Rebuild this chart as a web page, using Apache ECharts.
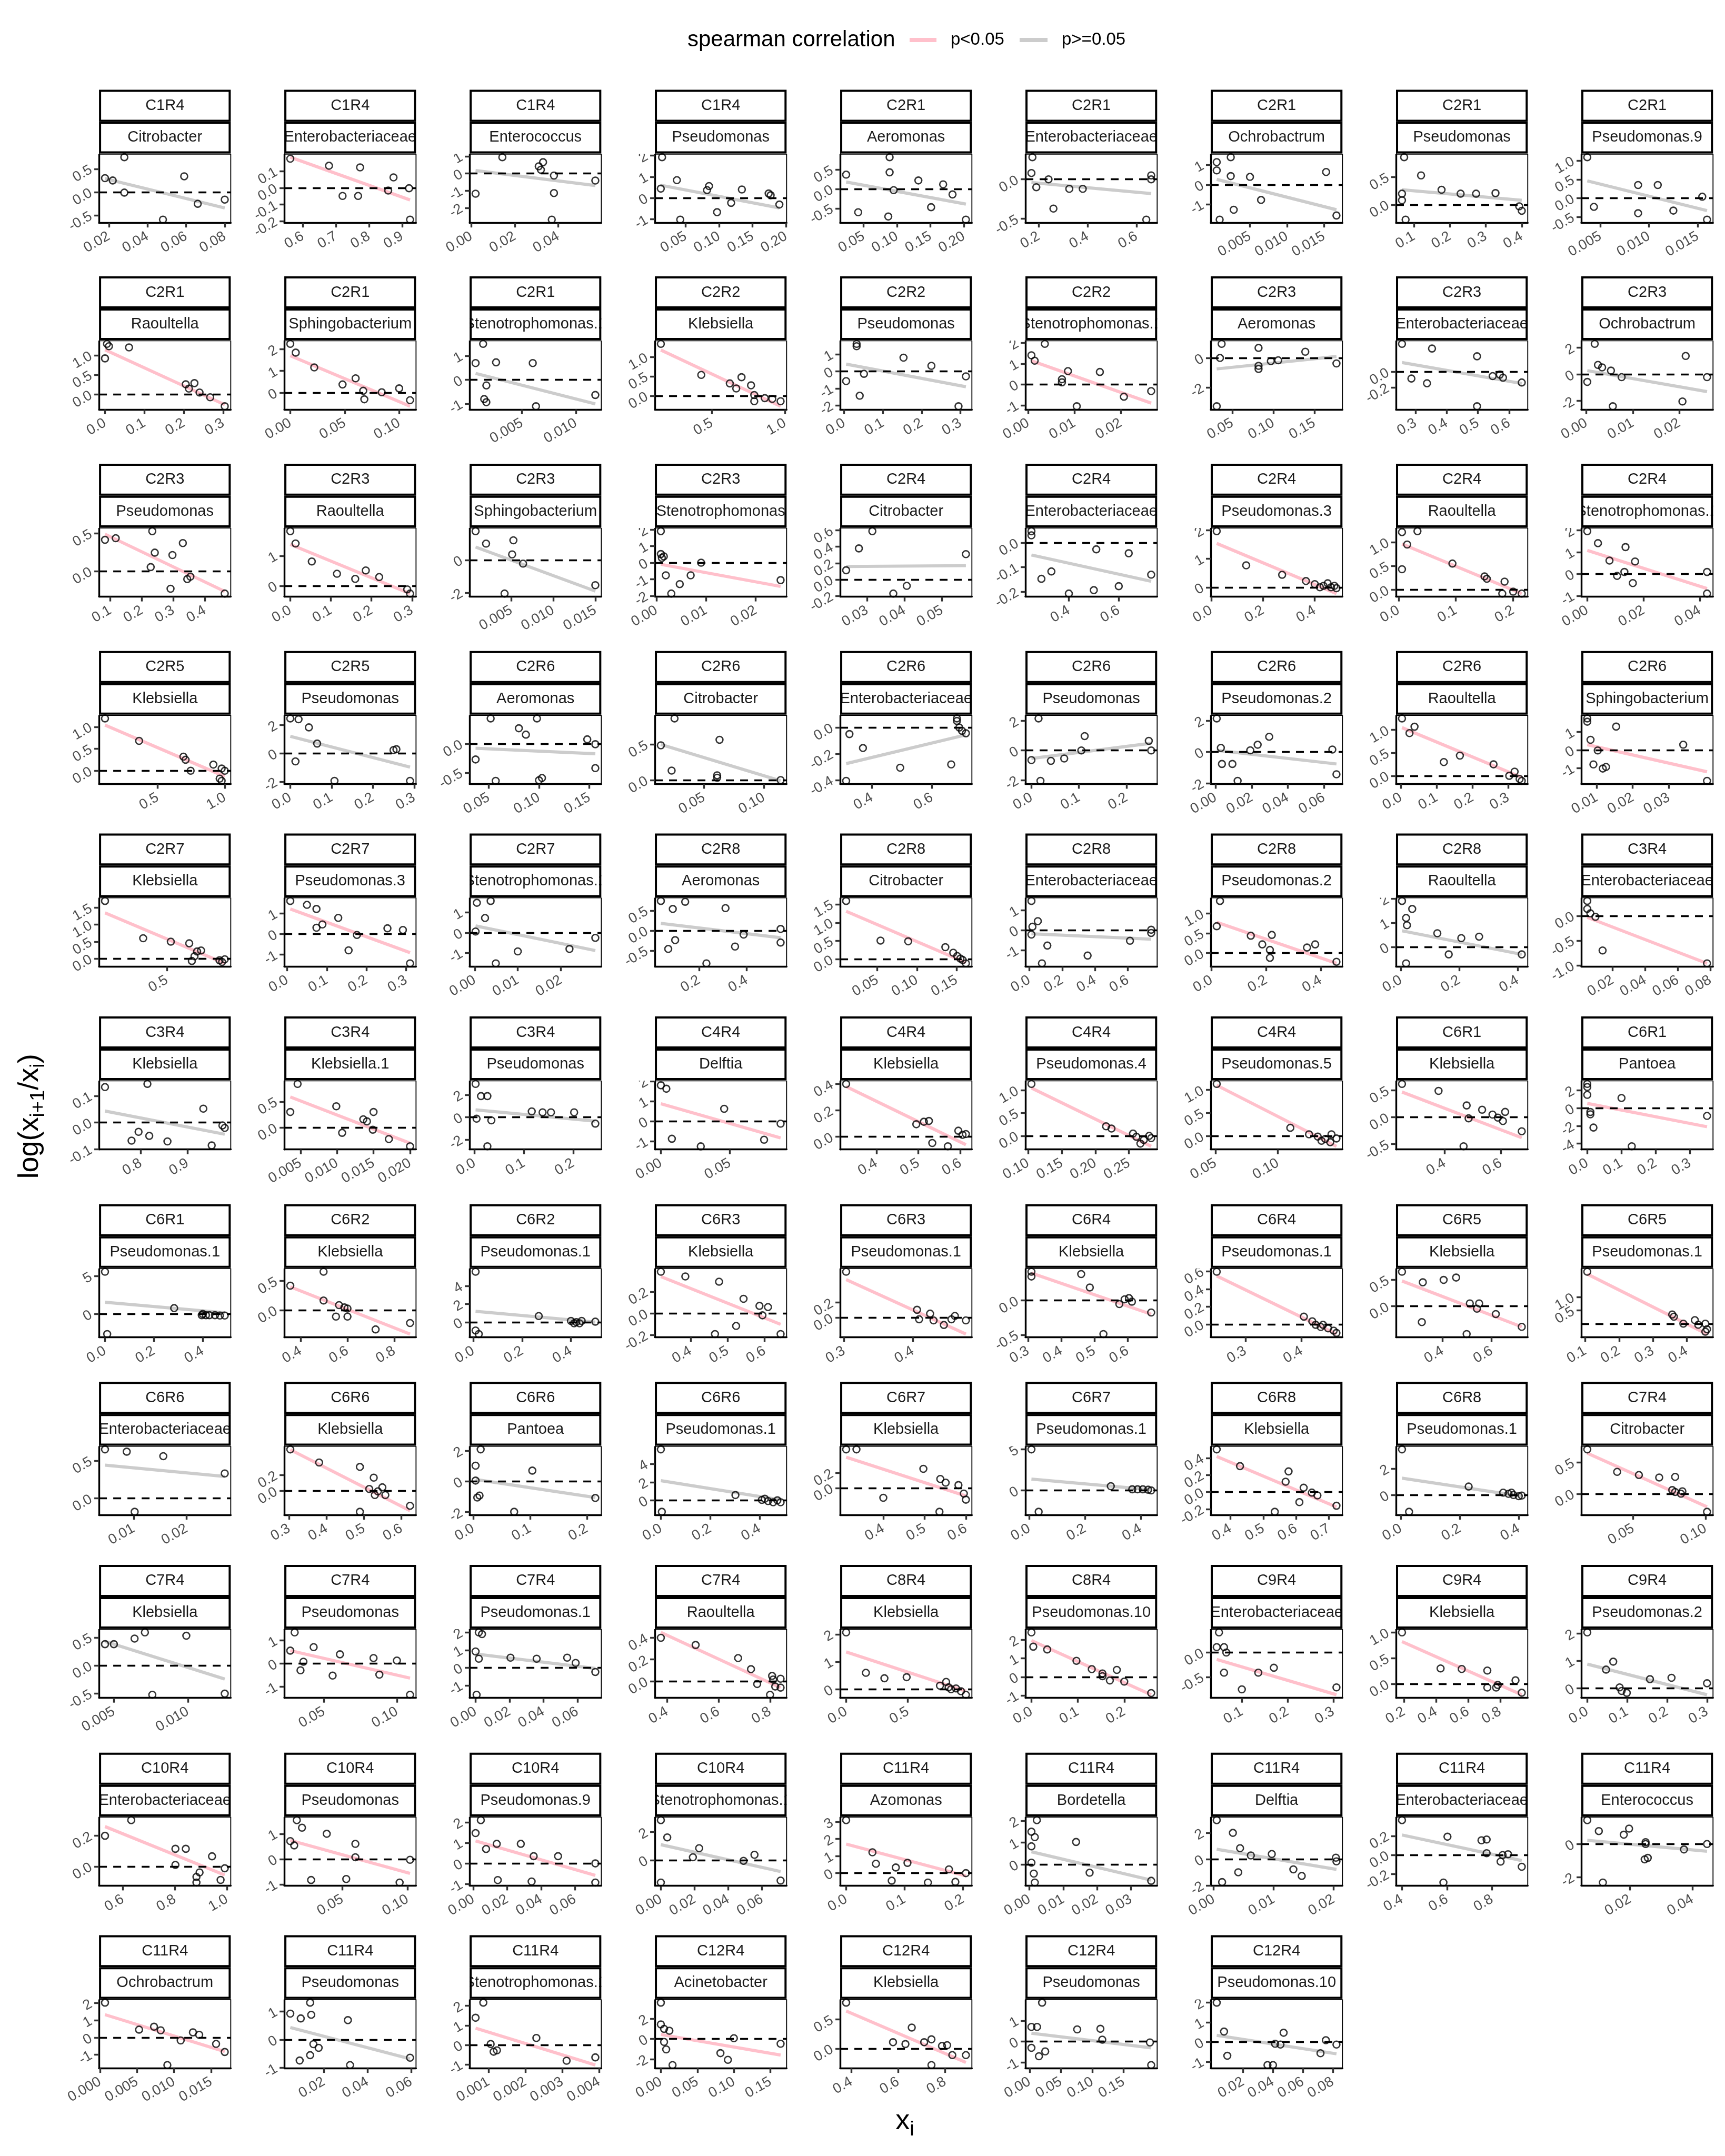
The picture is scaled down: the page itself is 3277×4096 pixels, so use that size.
<!DOCTYPE html>
<html><head><meta charset="utf-8">
<script src="https://cdn.jsdelivr.net/npm/echarts@6/dist/echarts.min.js"></script>
<style>html,body{margin:0;padding:0;background:#fff;}#chart{width:3277px;height:4096px;}</style>
</head><body><div id="chart"></div>
<script>
// ---------------- DATA ----------------
const cohorts = [
"C1R4","C1R4","C1R4","C1R4","C2R1","C2R1","C2R1","C2R1","C2R1",
"C2R1","C2R1","C2R1","C2R2","C2R2","C2R2","C2R3","C2R3","C2R3",
"C2R3","C2R3","C2R3","C2R3","C2R4","C2R4","C2R4","C2R4","C2R4",
"C2R5","C2R5","C2R6","C2R6","C2R6","C2R6","C2R6","C2R6","C2R6",
"C2R7","C2R7","C2R7","C2R8","C2R8","C2R8","C2R8","C2R8","C3R4",
"C3R4","C3R4","C3R4","C4R4","C4R4","C4R4","C4R4","C6R1","C6R1",
"C6R1","C6R2","C6R2","C6R3","C6R3","C6R4","C6R4","C6R5","C6R5",
"C6R6","C6R6","C6R6","C6R6","C6R7","C6R7","C6R8","C6R8","C7R4",
"C7R4","C7R4","C7R4","C7R4","C8R4","C8R4","C9R4","C9R4","C9R4",
"C10R4","C10R4","C10R4","C10R4","C11R4","C11R4","C11R4","C11R4","C11R4",
"C11R4","C11R4","C11R4","C12R4","C12R4","C12R4","C12R4"];
const genera = [
"Citrobacter","Enterobacteriaceae","Enterococcus","Pseudomonas","Aeromonas","Enterobacteriaceae","Ochrobactrum","Pseudomonas","Pseudomonas.9",
"Raoultella","Sphingobacterium","Stenotrophomonas.1","Klebsiella","Pseudomonas","Stenotrophomonas.1","Aeromonas","Enterobacteriaceae","Ochrobactrum",
"Pseudomonas","Raoultella","Sphingobacterium","Stenotrophomonas","Citrobacter","Enterobacteriaceae","Pseudomonas.3","Raoultella","Stenotrophomonas.1",
"Klebsiella","Pseudomonas","Aeromonas","Citrobacter","Enterobacteriaceae","Pseudomonas","Pseudomonas.2","Raoultella","Sphingobacterium",
"Klebsiella","Pseudomonas.3","Stenotrophomonas.1","Aeromonas","Citrobacter","Enterobacteriaceae","Pseudomonas.2","Raoultella","Enterobacteriaceae",
"Klebsiella","Klebsiella.1","Pseudomonas","Delftia","Klebsiella","Pseudomonas.4","Pseudomonas.5","Klebsiella","Pantoea",
"Pseudomonas.1","Klebsiella","Pseudomonas.1","Klebsiella","Pseudomonas.1","Klebsiella","Pseudomonas.1","Klebsiella","Pseudomonas.1",
"Enterobacteriaceae","Klebsiella","Pantoea","Pseudomonas.1","Klebsiella","Pseudomonas.1","Klebsiella","Pseudomonas.1","Citrobacter",
"Klebsiella","Pseudomonas","Pseudomonas.1","Raoultella","Klebsiella","Pseudomonas.10","Enterobacteriaceae","Klebsiella","Pseudomonas.2",
"Enterobacteriaceae","Pseudomonas","Pseudomonas.9","Stenotrophomonas.1","Azomonas","Bordetella","Delftia","Enterobacteriaceae","Enterococcus",
"Ochrobactrum","Pseudomonas","Stenotrophomonas.1","Acinetobacter","Klebsiella","Pseudomonas","Pseudomonas.10"];
// 1 = p<0.05 (pink), 0 = p>=0.05 (grey)
const significant = [
0,1,0,0,0,0,0,0,0,
1,1,0,1,0,1,0,0,0,
1,1,0,1,0,0,1,1,1,
1,0,0,0,0,0,0,1,1,
1,1,0,0,1,0,1,0,1,
0,1,0,1,1,1,1,1,1,
0,1,0,1,1,1,1,1,1,
0,1,0,0,1,0,1,0,1,
0,1,0,1,1,1,1,1,0,
1,1,1,0,1,0,0,0,0,
1,0,1,1,1,0,0];
const xTickLabels = [
["0.02","0.04","0.06","0.08"],["0.6","0.7","0.8","0.9"],["0.00","0.02","0.04"],["0.05","0.10","0.15","0.20"],["0.05","0.10","0.15","0.20"],["0.2","0.4","0.6"],["0.005","0.010","0.015"],["0.1","0.2","0.3","0.4"],["0.005","0.010","0.015"],
["0.0","0.1","0.2","0.3"],["0.00","0.05","0.10"],["0.005","0.010"],["0.5","1.0"],["0.0","0.1","0.2","0.3"],["0.00","0.01","0.02"],["0.05","0.10","0.15"],["0.3","0.4","0.5","0.6"],["0.00","0.01","0.02"],
["0.1","0.2","0.3","0.4"],["0.0","0.1","0.2","0.3"],["0.005","0.010","0.015"],["0.00","0.01","0.02"],["0.03","0.04","0.05"],["0.4","0.6"],["0.0","0.2","0.4"],["0.0","0.1","0.2"],["0.00","0.02","0.04"],
["0.5","1.0"],["0.0","0.1","0.2","0.3"],["0.05","0.10","0.15"],["0.05","0.10"],["0.4","0.6"],["0.0","0.1","0.2"],["0.00","0.02","0.04","0.06"],["0.0","0.1","0.2","0.3"],["0.01","0.02","0.03"],
["0.5"],["0.0","0.1","0.2","0.3"],["0.00","0.01","0.02"],["0.2","0.4"],["0.05","0.10","0.15"],["0.0","0.2","0.4","0.6"],["0.0","0.2","0.4"],["0.0","0.2","0.4"],["0.02","0.04","0.06","0.08"],
["0.8","0.9"],["0.005","0.010","0.015","0.020"],["0.0","0.1","0.2"],["0.00","0.05"],["0.4","0.5","0.6"],["0.10","0.15","0.20","0.25"],["0.05","0.10"],["0.4","0.6"],["0.0","0.1","0.2","0.3"],
["0.0","0.2","0.4"],["0.4","0.6","0.8"],["0.0","0.2","0.4"],["0.4","0.5","0.6"],["0.3","0.4"],["0.3","0.4","0.5","0.6"],["0.3","0.4"],["0.4","0.6"],["0.1","0.2","0.3","0.4"],
["0.01","0.02"],["0.3","0.4","0.5","0.6"],["0.0","0.1","0.2"],["0.0","0.2","0.4"],["0.4","0.5","0.6"],["0.0","0.2","0.4"],["0.4","0.5","0.6","0.7"],["0.0","0.2","0.4"],["0.05","0.10"],
["0.005","0.010"],["0.05","0.10"],["0.00","0.02","0.04","0.06"],["0.4","0.6","0.8"],["0.0","0.5"],["0.0","0.1","0.2"],["0.1","0.2","0.3"],["0.2","0.4","0.6","0.8"],["0.0","0.1","0.2","0.3"],
["0.6","0.8","1.0"],["0.05","0.10"],["0.00","0.02","0.04","0.06"],["0.00","0.02","0.04","0.06"],["0.0","0.1","0.2"],["0.00","0.01","0.02","0.03"],["0.00","0.01","0.02"],["0.4","0.6","0.8"],["0.02","0.04"],
["0.000","0.005","0.010","0.015"],["0.02","0.04","0.06"],["0.001","0.002","0.003","0.004"],["0.00","0.05","0.10","0.15"],["0.4","0.6","0.8"],["0.00","0.05","0.10","0.15"],["0.02","0.04","0.06","0.08"]];
const yTickLabels = [
["-0.5","0.0","0.5"],["-0.2","-0.1","0.0","0.1"],["-2","-1","0","1"],["-1","0","1","2"],["-0.5","0.0","0.5"],["-0.5","0.0"],["-1","0","1"],["0.0","0.5"],["-0.5","0.0","0.5","1.0"],
["0.0","0.5","1.0"],["0","1","2"],["-1","0","1"],["0.0","0.5","1.0"],["-2","-1","0","1"],["-1","0","1","2"],["-2","0"],["-0.4","-0.2","0.0","0.2"],["-2","0","2"],
["0.0","0.5"],["0","1"],["-2","0"],["-2","-1","0","1","2"],["-0.2","0.0","0.2","0.4","0.6"],["-0.2","-0.1","0.0"],["0","1","2"],["0.0","0.5","1.0"],["-1","0","1","2"],
["0.0","0.5","1.0"],["-2","0","2"],["-0.5","0.0"],["0.0","0.5"],["-0.4","-0.2","0.0"],["-2","0","2"],["-2","0","2"],["0.0","0.5","1.0"],["-1","0","1"],
["0.0","0.5","1.0","1.5"],["-1","0","1"],["-1","0","1"],["-0.5","0.0","0.5"],["0.0","0.5","1.0","1.5"],["-1","0","1"],["0.0","0.5","1.0"],["0","1","2"],["-1.0","-0.5","0.0"],
["-0.1","0.0","0.1"],["0.0","0.5"],["-2","0","2"],["-1","0","1","2"],["0.0","0.2","0.4"],["0.0","0.5","1.0"],["0.0","0.5","1.0"],["-0.5","0.0","0.5"],["-4","-2","0","2"],
["0","5"],["0.0","0.5"],["0","2","4"],["-0.2","0.0","0.2"],["-0.2","0.0","0.2","0.4"],["-0.5","0.0"],["0.0","0.2","0.4","0.6"],["0.0","0.5"],["0.0","0.5","1.0","1.5"],
["0.0","0.5"],["-0.2","0.0","0.2","0.4"],["-2","0","2"],["0","2","4"],["-0.2","0.0","0.2","0.4"],["0","5"],["-0.2","0.0","0.2","0.4"],["0","2"],["0.0","0.5"],
["-0.5","0.0","0.5"],["-1","0","1"],["-1","0","1","2"],["0.0","0.2","0.4"],["0","1","2"],["-1","0","1","2"],["-0.5","0.0"],["0.0","0.5","1.0"],["0","1","2"],
["0.0","0.2"],["-1","0","1"],["-1","0","1","2"],["0","2"],["0","1","2","3"],["0","1","2"],["-2","0","2"],["-0.2","0.0","0.2"],["-2","0"],
["-1","0","1","2"],["-1","0","1"],["-1","0","1","2"],["-2","0","2"],["0.0","0.5"],["-1","0","1"],["-1","0","1","2"]];
const xValues = [
[0.018,0.022,0.028,0.028,0.059,0.048,0.066,0.080],
[0.562,0.679,0.773,0.874,0.921,0.858,0.72,0.767,0.924],
[0.0143,0.033,0.031,0.032,0.038,0.057,0.002,0.038,0.037],
[0.0149,0.037,0.013,0.085,0.082,0.134,0.174,0.177,0.118,0.097,0.19,0.042],
[0.089,0.024,0.089,0.132,0.169,0.095,0.183,0.151,0.042,0.087,0.203],
[0.174,0.17,0.24,0.19,0.325,0.38,0.26,0.66,0.66,0.64],
[0.0024,0.0005,0.0005,0.0024,0.005,0.0153,0.0065,0.0028,0.0009,0.0167],
[0.073,0.12,0.067,0.067,0.177,0.23,0.273,0.327,0.393,0.40,0.077],
[0.00366,0.00434,0.00888,0.0109,0.00888,0.0125,0.01547,0.01596],
[0.005,0.01,0.061,0.0,0.205,0.227,0.213,0.24,0.267,0.304],
[0.0,0.005,0.022,0.06,0.048,0.067,0.068,0.084,0.10,0.11],
[0.0014,0.0007,0.0026,0.006,0.0017,0.0015,0.0017,0.0063,0.0118],
[0.152,0.428,0.623,0.703,0.768,0.667,0.79,0.862,0.913,0.97,0.79],
[0.032,0.032,0.153,0.225,0.051,0.005,0.04,0.295,0.314],
[0.0036,0.0007,0.0014,0.0086,0.0155,0.0073,0.0073,0.0207,0.0105,0.0266],
[0.037,0.082,0.035,0.097,0.106,0.082,0.082,0.139,0.177,0.031],
[0.257,0.353,0.497,0.287,0.337,0.547,0.57,0.58,0.64,0.497],
[0.0018,0.0025,0.0034,0.0053,0.0002,0.0076,0.0214,0.0057,0.0207,0.026],
[0.233,0.083,0.117,0.33,0.241,0.297,0.228,0.344,0.354,0.291,0.463],
[0.0,0.013,0.053,0.115,0.186,0.16,0.219,0.288,0.295],
[0.00075,0.002,0.00525,0.0051,0.0064,0.0042,0.015],
[0.0009,0.0009,0.0015,0.0011,0.009,0.0019,0.0069,0.0047,0.003,0.025],
[0.0314,0.0278,0.0244,0.0406,0.037,0.0564],
[0.25,0.25,0.51,0.64,0.33,0.29,0.5,0.4,0.6,0.73],
[0.021,0.135,0.274,0.366,0.4,0.434,0.463,0.484,0.42,0.476,0.45],
[0.006,0.033,0.015,0.006,0.094,0.150,0.154,0.185,0.181,0.2,0.215],
[0.0,0.0038,0.0136,0.0079,0.017,0.0106,0.0132,0.0162,0.0426,0.0426],
[0.108,0.362,0.692,0.708,0.746,0.915,0.977,1.0,0.962,0.977],
[0.0,0.02,0.045,0.065,0.0125,0.107,0.25,0.257,0.29],
[0.052,0.098,0.080,0.087,0.148,0.156,0.037,0.156,0.057,0.1,0.103],
[0.0254,0.014,0.063,0.023,0.061,0.061,0.114],
[0.325,0.37,0.494,0.664,0.314,0.683,0.691,0.70,0.713,0.683],
[0.015,0.112,0.0,0.041,0.069,0.105,0.247,0.252,0.019],
[0.0006,0.0297,0.0233,0.0192,0.0029,0.0035,0.0093,0.0122,0.0647,0.067],
[0.003,0.038,0.024,0.165,0.12,0.259,0.318,0.303,0.332,0.338],
[0.0074,0.0074,0.0154,0.0083,0.0103,0.0091,0.0117,0.0126,0.034,0.0406],
[0.03,0.32,0.53,0.67,0.71,0.73,0.76,0.69,0.9,0.92,0.94],
[0.008,0.05,0.074,0.129,0.074,0.089,0.176,0.253,0.292,0.155,0.31],
[0.0005,0.0037,0.0024,0.0002,0.01,0.022,0.028,0.0049],
[0.04,0.142,0.09,0.311,0.1,0.071,0.351,0.387,0.542,0.542,0.231],
[0.0105,0.054,0.089,0.136,0.146,0.151,0.158,0.162,0.155],
[0.013,0.052,0.019,0.013,0.11,0.355,0.613,0.742,0.742,0.077],
[0.031,0.019,0.144,0.221,0.186,0.214,0.214,0.35,0.38,0.458],
[0.004,0.039,0.018,0.021,0.125,0.207,0.268,0.164,0.018,0.414],
[0.0044,0.0044,0.0063,0.0094,0.0138,0.078],
[0.723,0.814,0.795,0.818,0.780,0.857,0.934,0.952,0.975,0.98],
[0.0046,0.0036,0.0099,0.015,0.0136,0.0141,0.0107,0.0149,0.0171,0.02],
[0.002,0.013,0.026,0.004,0.034,0.116,0.138,0.155,0.202,0.245,0.026],
[0.0,0.004,0.046,0.087,0.008,0.029,0.075],
[0.328,0.495,0.513,0.525,0.533,0.595,0.605,0.613,0.57],
[0.105,0.216,0.224,0.256,0.261,0.272,0.28,0.283,0.267],
[0.051,0.11,0.125,0.132,0.138,0.143,0.147,0.142,0.135],
[0.248,0.378,0.478,0.533,0.485,0.57,0.589,0.615,0.607,0.674,0.467],
[0.0,0.0,0.0,0.1,0.009,0.009,0.018,0.13,0.35],
[0.0,0.009,0.283,0.396,0.413,0.427,0.45,0.47,0.49,0.40],
[0.498,0.356,0.498,0.564,0.587,0.6,0.551,0.6,0.72,0.867],
[0.009,0.009,0.022,0.268,0.4,0.422,0.444,0.413,0.5,0.435],
[0.32,0.386,0.477,0.543,0.586,0.609,0.594,0.523,0.466,0.643],
[0.303,0.406,0.425,0.409,0.43,0.445,0.456,0.477,0.461],
[0.31,0.31,0.46,0.486,0.575,0.591,0.604,0.613,0.671,0.527],
[0.249,0.404,0.419,0.425,0.438,0.447,0.457,0.434,0.462],
[0.234,0.319,0.404,0.455,0.511,0.549,0.54,0.617,0.315,0.498,0.723],
[0.106,0.357,0.362,0.424,0.434,0.455,0.46,0.455,0.39],
[0.0046,0.0087,0.0156,0.0272,0.0102],
[0.303,0.38,0.489,0.526,0.514,0.537,0.549,0.529,0.557,0.489,0.623],
[0.013,0.004,0.104,0.004,0.011,0.007,0.072,0.215],
[0.0,0.302,0.409,0.434,0.455,0.472,0.485,0.421,0.004],
[0.31,0.335,0.497,0.538,0.551,0.582,0.595,0.6,0.4,0.536],
[0.008,0.293,0.37,0.389,0.408,0.427,0.438,0.034],
[0.358,0.429,0.577,0.568,0.623,0.648,0.665,0.61,0.535,0.723],
[0.004,0.23,0.347,0.365,0.382,0.4,0.41,0.375,0.028],
[0.0184,0.039,0.054,0.068,0.079,0.077,0.079,0.083,0.084,0.101],
[0.0044,0.005,0.0064,0.0071,0.0099,0.0076,0.0125],
[0.03,0.027,0.043,0.036,0.034,0.061,0.056,0.084,0.088,0.1,0.109],
[0.0019,0.0038,0.0,0.0019,0.0206,0.036,0.054,0.059,0.0706,0.0006],
[0.376,0.511,0.676,0.726,0.75,0.808,0.82,0.841,0.841,0.8,0.812],
[0.0,0.16,0.31,0.49,0.76,0.81,0.85,0.89,0.93,0.97,0.83],
[0.0,0.004,0.034,0.097,0.13,0.153,0.169,0.184,0.153,0.2,0.258],
[0.05,0.045,0.061,0.066,0.061,0.1,0.136,0.170,0.307],
[0.187,0.428,0.56,0.72,0.72,0.775,0.785,0.896,0.935],
[0.0,0.065,0.047,0.081,0.086,0.099,0.157,0.211,0.3],
[0.531,0.632,0.802,0.842,0.802,0.895,0.883,0.883,0.943,0.992,0.976],
[0.015,0.019,0.01,0.013,0.038,0.06,0.06,0.026,0.053,0.094,0.102],
[0.0044,0.0013,0.0075,0.0138,0.028,0.0356,0.05,0.0144,0.0344,0.072,0.072],
[0.0,0.0038,0.0227,0.019,0.049,0.0555,0.0,0.071],
[0.0,0.045,0.051,0.105,0.085,0.078,0.14,0.176,0.187,0.205],
[0.0022,0.0006,0.0016,0.0006,0.0006,0.0013,0.0016,0.0138,0.0178,0.036],
[0.0005,0.0032,0.0044,0.0062,0.0097,0.0041,0.0014,0.0133,0.0147,0.0204,0.0205],
[0.4,0.602,0.753,0.776,0.776,0.847,0.871,0.838,0.932,0.584],
[0.0063,0.01,0.018,0.0197,0.025,0.025,0.0257,0.0247,0.0373,0.0447,0.0113],
[0.00068,0.00528,0.0073,0.0082,0.0109,0.01255,0.0134,0.0091,0.01568,0.01685],
[0.0137,0.0046,0.0094,0.0142,0.031,0.0152,0.0176,0.0137,0.0089,0.032,0.0595],
[0.00086,0.00065,0.00106,0.00114,0.00123,0.0023,0.00312,0.0039],
[0.0,0.0,0.0044,0.0117,0.0044,0.0073,0.016,0.0816,0.0918,0.1,0.164],
[0.378,0.578,0.631,0.658,0.711,0.742,0.787,0.809,0.831,0.889,0.742],
[0.02,0.003,0.012,0.003,0.015,0.025,0.076,0.113,0.116,0.192,0.194],
[0.0023,0.0072,0.0094,0.0363,0.04,0.0414,0.045,0.0471,0.0718,0.0754,0.0825]];
const yValues = [
[0.30,0.25,0.75,-0.01,0.34,-0.59,-0.25,-0.16],
[0.175,0.133,0.123,0.063,-0.002,-0.016,-0.048,-0.048,-0.19],
[0.95,0.66,0.42,0.22,-0.12,-0.41,-1.18,-1.14,-2.69],
[1.92,0.84,0.44,0.56,0.37,0.40,0.21,0.13,-0.23,-0.67,-0.31,-1.02],
[0.82,0.37,0.43,0.22,0.12,-0.03,-0.14,-0.47,-0.60,-0.71,-0.79],
[0.28,0.08,0.0,-0.10,-0.12,-0.12,-0.37,0.05,0.0,-0.51],
[1.40,1.15,0.73,0.44,0.40,0.65,-0.77,-1.27,-1.77,-1.56],
[0.86,0.53,0.20,0.08,0.27,0.20,0.20,0.21,-0.03,-0.11,-0.27],
[1.09,-0.23,0.35,0.35,-0.40,-0.33,0.04,-0.57],
[1.29,1.23,1.20,0.92,0.26,0.29,0.15,0.05,-0.07,-0.30],
[2.24,1.84,1.16,0.66,0.38,0.09,-0.30,0.02,0.20,-0.34],
[1.5,0.7,0.73,0.70,-0.23,-0.8,-0.93,-1.10,-0.63],
[1.34,0.54,0.32,0.48,0.27,0.19,-0.14,-0.06,-0.08,-0.14,0.02],
[1.62,1.48,0.81,0.33,-0.14,-0.57,-1.43,-2.05,-0.29],
[1.95,1.4,1.14,0.64,0.6,0.25,0.1,-0.59,-1.05,-0.32],
[0.95,0.68,0.0,-0.21,-0.16,-0.53,-0.74,0.42,-0.37,-3.26],
[0.36,0.30,0.20,-0.086,-0.147,-0.055,-0.035,-0.075,-0.137,-0.443],
[2.29,0.71,0.52,0.28,-0.57,-0.21,1.38,-2.40,-2.04,-0.21],
[0.53,0.415,0.436,0.372,0.245,0.213,0.053,-0.106,-0.074,-0.234,-0.298],
[1.82,1.41,0.81,0.40,0.51,0.23,0.29,-0.12,-0.26],
[1.76,1.0,1.2,0.34,-0.22,-2.05,-1.54],
[1.9,0.52,0.38,0.29,0.0,-0.76,-0.76,-1.29,-1.86,-1.05],
[0.59,0.38,0.114,-0.076,-0.17,0.31],
[0.047,0.03,-0.027,-0.043,-0.117,-0.147,-0.193,-0.207,-0.177,-0.13],
[1.97,0.77,0.44,0.22,0.11,0.05,0.0,-0.03,0.0,0.05,0.14],
[1.21,1.23,0.95,0.43,0.55,0.28,0.23,0.17,-0.08,-0.04,-0.08],
[1.96,1.41,1.23,0.61,0.57,-0.09,0.09,-0.42,0.09,-0.9],
[1.19,0.68,0.32,0.25,0.0,0.14,0.05,0.0,-0.18,-0.23],
[2.46,2.4,1.83,0.69,-0.57,-1.94,0.23,0.29,-1.94],
[0.44,0.44,0.27,0.16,0.078,-0.006,-0.27,-0.42,-0.64,-0.63,-0.59],
[0.867,0.489,0.567,0.133,0.067,0.033,0.0],
[-0.05,-0.156,-0.306,-0.281,-0.406,0.069,0.0,-0.025,-0.044,0.05],
[2.16,0.97,-0.65,-0.70,-0.54,0.0,0.65,0.0,-2.05],
[2.14,0.97,0.46,0.10,0.26,-0.77,-0.77,-1.85,0.15,-1.43],
[1.25,1.07,0.93,0.44,0.30,0.25,0.09,0.0,-0.07,-0.11],
[1.75,1.57,1.3,0.57,-0.02,-0.79,-1.02,-0.93,0.3,-1.7],
[1.70,0.60,0.50,0.45,0.07,0.21,0.24,-0.07,-0.05,-0.10,-0.02],
[1.61,1.42,1.22,0.79,0.31,0.47,-0.04,0.28,0.20,-0.79,-1.42],
[1.48,1.57,0.73,0.06,-0.92,-0.80,-0.25,-1.51],
[0.74,0.72,0.54,0.56,-0.24,-0.46,-0.40,-0.1,0.04,-0.3,-0.82],
[1.59,0.51,0.49,0.33,0.18,0.09,-0.02,-0.11,0.02],
[1.46,0.45,0.17,-0.22,-0.77,-1.27,-0.53,0.02,-0.14,-1.66],
[1.32,0.68,0.44,0.46,0.22,0.08,-0.12,0.14,0.22,-0.22],
[1.9,1.57,1.2,0.9,0.57,0.37,0.43,-0.3,-0.67,-0.3],
[0.30,0.14,0.05,-0.02,-0.70,-0.96],
[0.133,0.145,-0.035,-0.05,-0.068,-0.071,0.052,-0.086,-0.011,-0.02],
[0.84,0.30,0.41,0.30,0.16,0.12,-0.10,-0.04,-0.22,-0.36],
[2.97,1.88,1.88,-0.14,-0.29,0.51,0.43,0.43,0.43,-0.58,-2.61],
[1.79,1.62,0.62,-0.12,-0.87,-1.25,-0.92],
[0.40,0.095,0.114,0.12,-0.047,0.046,0.015,0.021,-0.072],
[1.14,0.21,0.16,0.05,-0.02,-0.09,0.0,-0.05,-0.17],
[1.13,0.18,0.04,-0.01,-0.06,0.04,-0.05,-0.13,-0.10],
[0.62,0.49,0.22,0.14,-0.02,0.05,-0.006,0.10,-0.07,-0.26,-0.54],
[2.72,2.37,1.49,1.14,-0.44,-0.70,-2.19,-4.3,-0.88],
[5.6,-2.66,0.78,-0.16,-0.16,-0.16,-0.16,-0.2,-0.2,0.0],
[0.66,0.42,0.165,0.087,0.047,0.028,-0.11,-0.11,-0.33,-0.22],
[5.6,-0.93,-1.33,0.67,0.13,0.0,0.13,-0.13,0.05,-0.13],
[0.385,0.341,0.293,0.135,0.07,0.059,-0.017,-0.115,-0.19,-0.19],
[0.61,0.105,0.054,-0.021,-0.036,-0.096,-0.021,-0.036,0.024],
[0.42,0.35,0.385,0.19,-0.052,0.017,0.035,-0.017,-0.175,-0.49],
[0.595,0.087,0.034,-0.005,-0.005,-0.045,-0.071,-0.03,-0.097],
[0.656,0.455,0.5,0.545,0.054,0.054,-0.045,-0.147,-0.30,-0.527,-0.39],
[1.95,0.35,0.27,0.14,-0.03,0.01,-0.2,-0.29,0.01],
[0.65,0.62,0.56,0.33,-0.18],
[0.524,0.358,0.303,0.167,0.024,-0.006,0.045,-0.052,-0.052,-0.264,-0.188],
[2.08,1.02,0.7,0.05,-0.92,-1.05,-1.98,-1.08],
[5.6,0.58,0.05,-0.08,-0.21,0.0,-0.21,0.18,-1.26],
[0.513,0.513,0.255,0.12,0.071,0.039,-0.074,-0.155,-0.13,-0.316],
[5.0,0.52,0.14,0.14,0.14,0.09,0.0,-2.6],
[0.5,0.304,0.242,0.121,0.051,-0.006,-0.039,-0.118,-0.231,-0.16],
[3.45,0.64,0.18,0.09,0.0,-0.09,-0.04,0.18,-1.27],
[0.71,0.35,0.30,0.26,0.27,0.058,0.027,0.0,0.038,-0.29],
[0.38,0.38,0.48,0.59,0.53,-0.52,-0.5],
[1.35,0.56,0.71,0.08,-0.29,0.40,-0.52,0.24,-0.48,0.13,-1.35],
[2.0,1.9,0.92,0.51,0.57,0.51,0.57,0.27,-0.24,-1.53],
[0.40,0.334,0.213,0.111,-0.026,0.049,-0.049,0.023,-0.059,-0.125,0.016],
[2.07,0.6,0.4,0.44,0.13,0.27,0.0,0.03,-0.07,-0.2,0.07],
[2.4,1.63,1.48,0.87,0.42,0.19,-0.19,0.38,0.04,-0.25,-0.87],
[0.41,0.11,0.11,0.0,-0.41,-0.75,-0.41,-0.31,-0.71],
[1.0,0.30,0.29,0.26,-0.07,-0.07,-0.02,0.07,-0.17],
[2.04,0.97,0.68,0.03,-0.1,-0.17,0.33,0.38,0.18],
[0.20,0.302,0.115,0.115,0.01,-0.039,-0.068,-0.105,0.066,-0.012,-0.088],
[1.54,1.24,0.71,0.54,1.0,0.6,0.07,-0.83,-0.79,-0.93,-0.03],
[2.1,1.47,0.7,0.95,0.95,0.35,0.35,-0.81,-0.88,0.0,-0.93],
[2.85,1.62,0.85,0.2,-0.05,0.38,-1.6,-1.46],
[3.1,1.22,0.55,0.6,0.33,-0.44,-0.55,0.22,-0.51,0.0],
[2.03,1.5,1.25,0.83,0.08,-0.42,-0.83,1.03,-0.38,-0.75],
[2.97,2.0,0.83,0.28,0.39,-1.0,-1.75,-0.78,-1.28,0.11,-0.17],
[0.365,0.192,0.154,0.162,0.019,0.0,0.008,-0.069,-0.123,-0.288],
[1.44,0.78,0.56,0.93,0.11,0.0,-0.84,-0.93,-0.33,0.0,-2.33],
[2.03,0.46,0.63,0.42,-0.17,0.30,0.16,-1.6,-0.37,-0.84],
[1.31,0.92,0.75,0.88,0.69,-0.16,-0.29,-0.55,-0.74,-0.90,-0.64],
[2.16,1.39,0.05,-0.34,-0.27,0.36,-0.8,-0.63],
[3.6,1.44,1.0,0.81,-0.3,-1.04,-2.59,-1.41,-2.07,0.07,-0.48],
[0.79,0.108,0.076,0.361,0.108,0.158,0.044,0.057,-0.114,-0.114,-0.285],
[1.86,0.7,0.7,-0.3,-0.7,-0.47,0.58,0.61,0.09,-0.04,-1.12],
[2.0,0.53,-0.70,-1.17,-1.17,-0.09,-0.13,0.47,-0.57,0.09,-0.13]];
// fitted (linear trend) value read at the smallest and largest x of each panel
const fitAtMinX = [0.29,0.184,0.175,0.60,0.18,-0.04,0.275,0.27,0.46,
1.14,1.70,0.27,1.18,0.43,1.14,-0.74,0.12,0.28,
0.49,1.38,0.79,-0.1,0.16,-0.05,1.54,0.96,1.08,
1.04,1.2,-0.075,0.5,-0.275,-0.54,0.1,1.05,0.3,
1.35,1.22,0.34,0.18,1.31,-0.18,0.78,0.67,-0.03,
0.043,0.59,0.65,0.87,0.38,1.05,1.1,0.47,0.53,
1.56,0.40,1.2,0.34,0.505,0.40,0.547,0.48,1.86,
0.44,0.52,0.125,2.16,0.41,1.39,0.417,1.27,0.65,
0.43,0.56,0.78,0.45,1.36,1.96,-0.14,0.82,0.88,
0.26,0.74,1.09,1.1,1.7,0.58,0.75,0.21,0.22,
1.33,0.43,0.86,0.44,0.646,0.40,0.34];
const fitAtMaxX = [-0.34,-0.072,-0.70,-0.47,-0.39,-0.18,-1.27,0.08,-0.33,
-0.26,-0.62,-1.0,-0.27,-0.9,-0.9,0.1,-0.15,-1.3,
-0.27,-0.26,-1.9,-1.43,0.17,-0.157,-0.22,-0.08,-0.67,
-0.13,-0.97,-0.17,-0.011,-0.056,0.49,-0.77,-0.035,-1.2,
-0.14,-0.9,-0.88,-0.18,-0.09,-0.45,-0.26,-0.3,-0.96,
-0.044,-0.30,-0.36,-0.83,-0.06,-0.23,-0.22,-0.38,-2.1,
0.16,-0.41,0.0,-0.10,-0.217,-0.2,-0.11,-0.39,-0.38,
0.29,-0.25,-1.05,0.05,-0.106,0.09,-0.175,-0.09,-0.21,
-0.24,-0.63,-0.04,-0.06,-0.07,-0.96,-0.86,-0.21,-0.24,
-0.056,-0.57,-0.58,-0.82,-0.16,-0.72,-0.78,-0.058,-0.44,
-0.82,-0.68,-1.02,-1.6,-0.24,-0.30,-0.6];
const legendTitle = "spearman correlation";
const legendLabels = ["p<0.05", "p>=0.05"];

// ---------------- LAYOUT / STYLE ----------------
const S = 0.91;                       // reference px -> window px
const FONT = '"Liberation Sans", Arial, Helvetica, sans-serif';
const PINK = '#FFC0CB', GREY = '#CCCCCC';
const NCOL = 9;
const rowTopRef = [187.3, 577, 968, 1359, 1740, 2122, 2514, 2885, 3267, 3659, 4040];
const colLeft = c => (206.7 + 386.8 * c) * S;
const PANEL_W = 275 * S;
const STRIP1 = [0, 67 * S], STRIP2 = [67 * S, 133 * S];
const PLOT_T = 134.4 * S, PLOT_B = 277.7 * S;

function expandRange(lo, hi, ticks) {
  let span = hi - lo; if (span === 0) span = Math.abs(hi) || 1;
  let a = lo - 0.05 * span, b = hi + 0.05 * span;
  const w = b - a, tol = 0.06 * w;
  ticks.forEach(t => {
    if (t < a && t >= a - tol) a = t - 0.004 * w;
    if (t > b && t <= b + tol) b = t + 0.004 * w;
  });
  return [a, b];
}
function labelFormatter(strs) {
  const vals = strs.map(Number);
  return v => { let best = 0; vals.forEach((x, k) => { if (Math.abs(x - v) < Math.abs(vals[best] - v)) best = k; }); return strs[best]; };
}

const grids = [], xAxes = [], yAxes = [], series = [], graphics = [];
const n = cohorts.length;
for (let i = 0; i < n; i++) {
  const r = Math.floor(i / NCOL), c = i % NCOL;
  const L = colLeft(c), T = rowTopRef[r] * S;
  const xs = xValues[i], ys = yValues[i];
  const xmin = Math.min(...xs), xmax = Math.max(...xs);
  const yAll = ys.concat([fitAtMinX[i], fitAtMaxX[i], 0]);
  const xtv = xTickLabels[i].map(Number), ytv = yTickLabels[i].map(Number);
  const xr = expandRange(xmin, xmax, xtv), yr = expandRange(Math.min(...yAll), Math.max(...yAll), ytv);
  const xIn = xtv.filter(t => t >= xr[0] && t <= xr[1]);
  const yIn = ytv.filter(t => t >= yr[0] && t <= yr[1]);

  grids.push({ left: L, top: T + PLOT_T, width: PANEL_W, height: PLOT_B - PLOT_T, show: true,
    backgroundColor: '#fff', borderColor: '#000', borderWidth: 1.8 });
  const common = {
    type: 'value', gridIndex: i, splitLine: { show: false },
    axisLine: { show: true, onZero: false, lineStyle: { color: '#000', width: 3.4 } },
  };
  xAxes.push(Object.assign({}, common, {
    min: xr[0], max: xr[1], position: 'bottom',
    axisTick: { show: true, length: 9, customValues: xIn, lineStyle: { color: '#333', width: 3.4 } },
    axisLabel: { show: true, customValues: xIn, formatter: labelFormatter(xTickLabels[i]), rotate: 30,
      fontSize: 27, color: '#4D4D4D', fontFamily: FONT, margin: 24 }
  }));
  yAxes.push(Object.assign({}, common, {
    min: yr[0], max: yr[1], position: 'left',
    axisTick: { show: true, length: 9, customValues: yIn, lineStyle: { color: '#333', width: 3.4 } },
    axisLabel: { show: true, customValues: yIn, formatter: labelFormatter(yTickLabels[i]), rotate: 30,
      fontSize: 27, color: '#4D4D4D', fontFamily: FONT, margin: 15 }
  }));
  series.push({ type: 'line', xAxisIndex: i, yAxisIndex: i, silent: true, animation: false, z: 2,
    data: [[xmin, fitAtMinX[i]], [xmax, fitAtMaxX[i]]], symbol: 'none',
    lineStyle: { color: significant[i] ? PINK : GREY, width: 6 },
    markLine: { silent: true, animation: false, symbol: ['none', 'none'], label: { show: false },
      lineStyle: { color: '#000', width: 3.4, type: [15, 12] }, data: [{ yAxis: 0 }] } });
  series.push({ type: 'scatter', xAxisIndex: i, yAxisIndex: i, silent: true, animation: false, z: 3,
    data: xs.map((x, j) => [x, ys[j]]), symbol: 'circle', symbolSize: 13,
    itemStyle: { color: 'rgba(0,0,0,0)', borderColor: '#000', borderWidth: 2.6 } });

  // strips
  [[STRIP1, cohorts[i]], [STRIP2, genera[i]]].forEach(([s, txt]) => {
    const y0 = T + s[0], h = s[1] - s[0];
    graphics.push({ type: 'rect', z: 10, shape: { x: L + 2, y: y0 + 2, width: PANEL_W - 4, height: h - 4 },
      style: { fill: '#fff', stroke: null } });
    graphics.push({ type: 'text', z: 11, x: L + PANEL_W / 2, y: y0 + h / 2,
      style: { text: txt, fontSize: 29, fontFamily: FONT, fill: '#1A1A1A',
        align: 'center', verticalAlign: 'middle', textAlign: 'center', textVerticalAlign: 'middle' } });
    graphics.push({ type: 'rect', z: 12, shape: { x: L - 45, y: y0 - 1, width: 45, height: h + 2 }, style: { fill: '#fff' } });
    graphics.push({ type: 'rect', z: 12, shape: { x: L + PANEL_W, y: y0 - 1, width: 45, height: h + 2 }, style: { fill: '#fff' } });
    graphics.push({ type: 'rect', z: 13, shape: { x: L + 2, y: y0 + 2, width: PANEL_W - 4, height: h - 4 },
      style: { fill: null, stroke: '#000', lineWidth: 4 } });
  });
}

// text measuring for composed titles
const mctx = document.createElement('canvas').getContext('2d');
function tw(t, size) { mctx.font = size + 'px "Liberation Sans"'; return mctx.measureText(t).width; }
function composed(parts) {
  const total = parts.reduce((a, p) => a + tw(p[0], p[1]), 0);
  let x = -total / 2; const kids = [];
  parts.forEach(p => {
    kids.push({ type: 'text', x: x, y: p[2], style: { text: p[0], fontSize: p[1], fontFamily: FONT, fill: '#000',
      align: 'left', verticalAlign: 'middle', textAlign: 'left', textVerticalAlign: 'middle' } });
    x += tw(p[0], p[1]);
  });
  return kids;
}
// y title: log(x_{i+1}/x_i)
graphics.push({ type: 'group', x: 57, y: 2121, rotation: Math.PI / 2, z: 20,
  children: composed([['log(x', 54, 0], ['i+1', 38, 17], ['/x', 54, 0], ['i', 38, 17], [')', 54, 0]]) });
// x title: x_i
graphics.push({ type: 'group', x: 1719, y: 4030, z: 20, children: composed([['x', 54, 0], ['i', 38, 17]]) });

// legend
const LY = 76;
graphics.push({ type: 'text', z: 20, x: 1306, y: LY, style: { text: legendTitle, fontSize: 42, fontFamily: FONT, fill: '#000',
  align: 'left', verticalAlign: 'middle', textAlign: 'left', textVerticalAlign: 'middle' } });
[[1728, 1779, 1806, PINK, legendLabels[0]], [1937, 1990, 2017, GREY, legendLabels[1]]].forEach(k => {
  graphics.push({ type: 'line', z: 20, shape: { x1: k[0], y1: LY, x2: k[1], y2: LY }, style: { stroke: k[3], lineWidth: 8 } });
  graphics.push({ type: 'text', z: 20, x: k[2], y: LY, style: { text: k[4], fontSize: 33, fontFamily: FONT, fill: '#000',
    align: 'left', verticalAlign: 'middle', textAlign: 'left', textVerticalAlign: 'middle' } });
});

const chart = echarts.init(document.getElementById('chart'), null, { renderer: 'canvas' });
chart.setOption({
  backgroundColor: '#fff', animation: false,
  grid: grids, xAxis: xAxes, yAxis: yAxes, series: series,
  graphic: { elements: graphics }
});
</script></body></html>
